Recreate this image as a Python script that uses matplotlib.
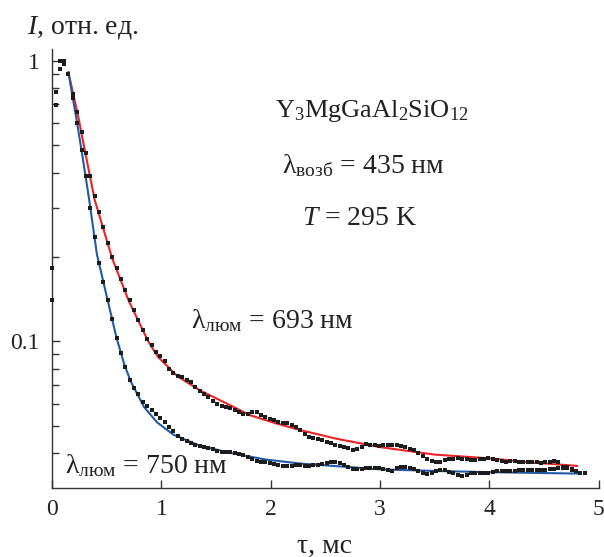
import matplotlib
matplotlib.use("Agg")
import matplotlib.pyplot as plt
from matplotlib.ticker import FixedLocator, NullFormatter, FixedFormatter

plt.rcParams['font.family'] = ['Liberation Serif', 'DejaVu Serif']
plt.rcParams['mathtext.fontset'] = 'custom'
plt.rcParams['mathtext.rm'] = 'Liberation Serif'
plt.rcParams['mathtext.it'] = 'Liberation Serif:italic'

# ---- data ----
# early points shared by both measurements
early_t = [0.0, 0.0, 0.035, 0.035, 0.075, 0.075, 0.11, 0.11]
early_i = [0.182, 0.140, 0.777, 0.697, 1.0, 0.934, 1.0, 0.973]

times = [0.15, 0.19, 0.23, 0.27, 0.31, 0.35, 0.39, 0.43, 0.47, 0.51, 0.55, 0.59, 0.63, 0.67, 0.71, 0.75,
         0.79, 0.83, 0.87, 0.91, 0.95, 0.99, 1.03, 1.07, 1.11, 1.15, 1.19, 1.23, 1.27, 1.31, 1.35, 1.39,
         1.43, 1.47, 1.51, 1.55, 1.59, 1.63, 1.67, 1.71, 1.75, 1.79, 1.83, 1.87, 1.91, 1.95, 1.99, 2.03,
         2.07, 2.11, 2.15, 2.19, 2.23, 2.27, 2.31, 2.35, 2.39, 2.43, 2.47, 2.51, 2.55, 2.59, 2.63, 2.67,
         2.71, 2.75, 2.79, 2.83, 2.87, 2.91, 2.95, 2.99, 3.03, 3.07, 3.11, 3.15, 3.19, 3.23, 3.27, 3.31,
         3.35, 3.39, 3.43, 3.47, 3.51, 3.55, 3.59, 3.63, 3.67, 3.71, 3.75, 3.79, 3.83, 3.87, 3.91, 3.95,
         3.99, 4.03, 4.07, 4.11, 4.15, 4.19, 4.23, 4.27, 4.31, 4.35, 4.39, 4.43, 4.47, 4.51, 4.55, 4.59,
         4.63, 4.67, 4.71, 4.75, 4.79, 4.83, 4.87]

# measured decay, lambda_lum = 693 nm
i_693 = [0.90, 0.76, 0.66, 0.56, 0.47, 0.39, 0.33, 0.29, 0.255, 0.225, 0.20, 0.183, 0.167, 0.152, 0.140, 0.129,
         0.119, 0.110, 0.102, 0.097, 0.092, 0.089, 0.085, 0.080, 0.077, 0.0755, 0.0748, 0.0730, 0.0716, 0.0690, 0.0665, 0.0648,
         0.0632, 0.0615, 0.0598, 0.0588, 0.0582, 0.0577, 0.0568, 0.0560, 0.0553, 0.0551, 0.0560, 0.0561, 0.0548, 0.0538, 0.0530, 0.0524,
         0.0518, 0.0513, 0.0510, 0.0505, 0.0497, 0.0485, 0.0468, 0.0458, 0.0452, 0.0449, 0.0445, 0.0438, 0.0433, 0.0428, 0.0423, 0.0420,
         0.0416, 0.0411, 0.0414, 0.0422, 0.0430, 0.0428, 0.0426, 0.0425, 0.0426, 0.0427, 0.0427, 0.0427, 0.0424, 0.0421, 0.0415, 0.0411,
         0.0400, 0.0390, 0.0380, 0.0374, 0.0371, 0.0373, 0.0377, 0.0380, 0.0381, 0.0383, 0.0382, 0.0380, 0.0378, 0.0379, 0.0380, 0.0382,
         0.0383, 0.0380, 0.0378, 0.0375, 0.0373, 0.0375, 0.0376, 0.0373, 0.0372, 0.0371, 0.0373, 0.0371, 0.0370, 0.0371, 0.0372, 0.0375,
         0.0373, 0.0358, 0.0356, 0.0350, 0.0344]

# measured decay, lambda_lum = 750 nm
i_750 = [0.90, 0.74, 0.60, 0.48, 0.39, 0.30, 0.235, 0.19, 0.163, 0.140, 0.120, 0.103, 0.091, 0.081, 0.073, 0.068,
         0.065, 0.061, 0.0590, 0.0570, 0.0552, 0.0535, 0.0515, 0.0497, 0.0480, 0.0462, 0.0448, 0.0440, 0.0434, 0.0428, 0.0424, 0.0420,
         0.0417, 0.0414, 0.0408, 0.0405, 0.0405, 0.0403, 0.0400, 0.0398, 0.0393, 0.0387, 0.0382, 0.0376, 0.0373, 0.0371, 0.0370, 0.0367,
         0.0364, 0.0361, 0.0359, 0.0361, 0.0363, 0.0362, 0.0360, 0.0361, 0.0362, 0.0363, 0.0365, 0.0369, 0.0372, 0.0372, 0.0368, 0.0362,
         0.0356, 0.0350, 0.0350, 0.0352, 0.0354, 0.0354, 0.0354, 0.0353, 0.0352, 0.0349, 0.0346, 0.0353, 0.0358, 0.0357, 0.0355, 0.0351,
         0.0346, 0.0340, 0.0336, 0.0339, 0.0344, 0.0348, 0.0347, 0.0343, 0.0339, 0.0333, 0.0331, 0.0335, 0.0339, 0.0341, 0.0341, 0.0340,
         0.0341, 0.0342, 0.0344, 0.0345, 0.0345, 0.0346, 0.0346, 0.0347, 0.0348, 0.0349, 0.0349, 0.0349, 0.0349, 0.0349, 0.0350, 0.0352,
         0.0354, 0.0355, 0.0354, 0.0349, 0.0344, 0.0340, 0.0339]

# fitted curves
fit693_t = [0.15, 0.24, 0.30, 0.39, 0.55, 0.70, 0.88, 0.97, 1.15, 1.35, 1.60, 1.81, 2.05, 2.27, 2.60, 3.00,
            3.50, 4.00, 4.40, 4.80]
fit693_i = [0.91, 0.633, 0.48, 0.32, 0.198, 0.140, 0.100, 0.088, 0.075, 0.067, 0.060, 0.0546, 0.051, 0.0483, 0.045, 0.042,
            0.0395, 0.0383, 0.037, 0.036]
fit750_t = [0.15, 0.22, 0.27, 0.34, 0.41, 0.50, 0.59, 0.66, 0.72, 0.84, 0.96, 1.11, 1.35, 1.66, 1.96, 2.27,
            2.70, 3.00, 3.55, 4.00, 4.80]
fit750_i = [0.91, 0.633, 0.48, 0.32, 0.205, 0.145, 0.103, 0.083, 0.072, 0.0585, 0.0515, 0.0465, 0.0425, 0.0398, 0.0379, 0.0367,
            0.0357, 0.0350, 0.0345, 0.0342, 0.0338]

y_major = [0.1, 1.0]
y_major_labels = ["0.1", "1"]
y_minor = [0.04, 0.05, 0.06, 0.07, 0.08, 0.09, 0.2, 0.3, 0.4, 0.5, 0.6, 0.7, 0.8, 0.9]
x_ticks = [0, 1, 2, 3, 4, 5]

# ---- figure ----
fig = plt.figure(figsize=(6.04, 5.57), dpi=100)
ax = fig.add_axes([0.0861, 0.1244, 0.9054, 0.7871])

RED = '#ec2227'
BLUE = '#1f5aa6'
PT = '#1c1c1c'
TC = '#222222'

ax.plot(fit693_t, fit693_i, color=RED, lw=1.5, zorder=2)
ax.plot(fit750_t, fit750_i, color=BLUE, lw=1.5, zorder=2)
ax.plot(times[:len(i_693)], i_693, 's', color=PT, ms=2.6, mew=0, zorder=3)
ax.plot(times[:len(i_750)], i_750, 's', color=PT, ms=2.6, mew=0, zorder=3)
ax.plot(early_t, early_i, 's', color=PT, ms=2.6, mew=0, zorder=3, clip_on=False)

ax.set_yscale('log')
ax.set_xlim(0, 5)
ax.set_ylim(0.0301, 1.10)

ax.yaxis.set_major_locator(FixedLocator(y_major))
ax.yaxis.set_major_formatter(FixedFormatter(y_major_labels))
ax.yaxis.set_minor_locator(FixedLocator(y_minor))
ax.yaxis.set_minor_formatter(NullFormatter())
ax.set_xticks(x_ticks)
ax.set_xticklabels([str(v) for v in x_ticks])

for s in ['top', 'right']:
    ax.spines[s].set_visible(False)
for s in ['left', 'bottom']:
    ax.spines[s].set_linewidth(1.0)
    ax.spines[s].set_color('#333333')

ax.tick_params(axis='both', which='major', direction='in', length=6, width=1.0,
               color='#333333', labelsize=17, labelcolor=TC)
ax.tick_params(axis='y', which='minor', direction='in', length=5, width=1.0, color='#333333')
ax.tick_params(axis='x', which='major', pad=8)
ax.tick_params(axis='y', which='major', pad=9)

fig.text(0.0447, 0.940, r'$I$, отн. ед.', fontsize=20, color=TC, ha='left', va='baseline')
fig.text(0.538, 0.008, 'τ, мс', fontsize=20, color=TC, ha='center', va='baseline')

fig.text(0.615, 0.7905, r'Y$_3$MgGaAl$_2$SiO$_{12}$', fontsize=19, color=TC, ha='center', va='baseline')
fig.text(0.601, 0.689, r'λ$_{\mathrm{возб}}$ = 435 нм', fontsize=20, color=TC, ha='center', va='baseline')
fig.text(0.596, 0.596, r'$T$ = 295 K', fontsize=20, color=TC, ha='center', va='baseline')
fig.text(0.316, 0.411, r'λ$_{\mathrm{люм}}$ = 693 нм', fontsize=20, color=TC, ha='left', va='baseline')
fig.text(0.108, 0.151, r'λ$_{\mathrm{люм}}$ = 750 нм', fontsize=20, color=TC, ha='left', va='baseline')

fig.savefig('out.png', dpi=100)
